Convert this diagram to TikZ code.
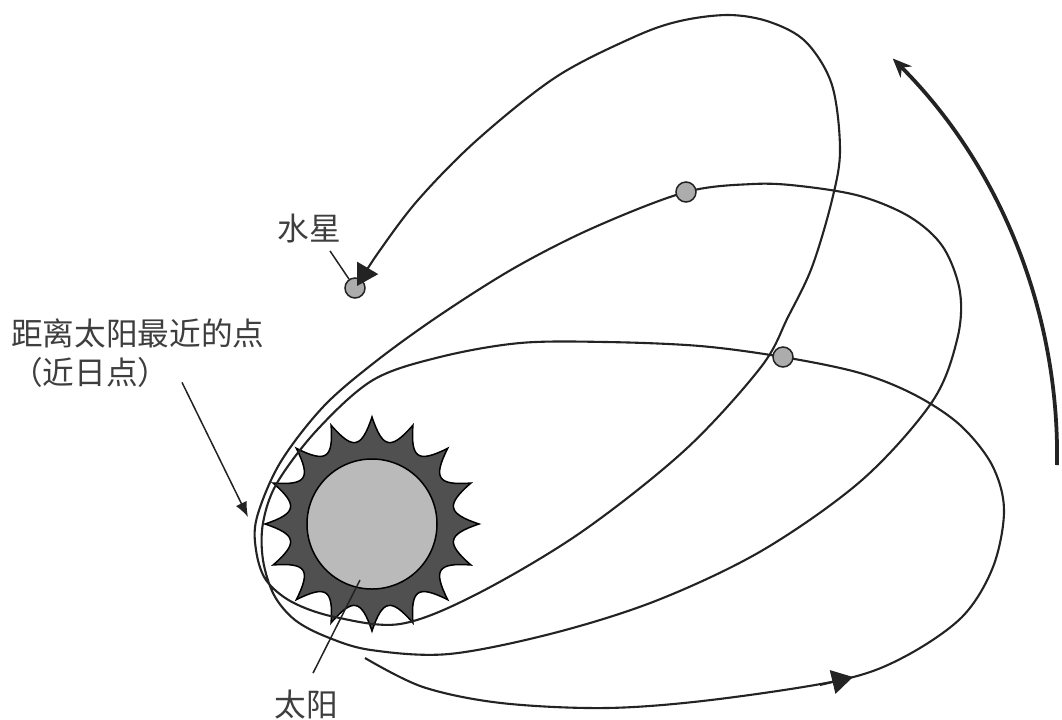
\documentclass[tikz,border=0pt]{standalone}
\usepackage{fontspec}
\setmainfont{Noto Sans CJK SC}
\usepackage{xcolor}
\definecolor{ink}{RGB}{35,35,35}
\definecolor{textgrey}{RGB}{62,62,62}
\definecolor{corona}{RGB}{80,80,80}
\definecolor{photo}{RGB}{186,186,186}
\definecolor{planetgrey}{RGB}{172,172,172}
\usetikzlibrary{arrows.meta,calc}

\begin{document}
\begin{tikzpicture}[
  x=0.2mm, y=-0.2mm,
  orbit/.style={draw=ink, line width=0.42mm},
  planet/.style={circle, draw=ink, line width=0.3mm, fill=planetgrey,
                 minimum size=4mm, inner sep=0pt},
  pointer/.style={draw=ink, line width=0.3mm},
  lbl/.style={font=\fontsize{18pt}{22pt}\selectfont, text=textgrey, inner sep=0pt},
  swing/.style={draw=ink, line width=0.75mm, -{Stealth[length=3.8mm,width=3.2mm]}},
]
  \fill[white] (0,0) rectangle (1062,719);
  \useasboundingbox (0,0) rectangle (1062,719);

  %% sun: spiky corona and disc
  \coordinate (sun) at (372,524);
  \begin{scope}[shift={(sun)}]
    \filldraw[fill=corona, draw=black, line width=0.3mm]
      (0:107) \foreach \a in {0,22.5,...,337.5}{
        .. controls (\a+8:76) and (\a+14.5:76) .. (\a+22.5:107)} -- cycle;
  \end{scope}
  \node[circle, fill=photo, draw=black, line width=0.3mm,
        minimum size=26mm, inner sep=0pt] (sunDisc) at (sun) {};

  %% Mercury now (sits under the arrow head)
  \node[planet] (mercury) at (355,288) {};

  %% precessing orbit, one continuous track
  \draw[orbit, -{Triangle[length=4.2mm,width=4.8mm]}] plot[smooth, tension=0.55] coordinates {
    (365,658) (423,687) (501,703) (606,708) (711,700) (841,680) (904,657)
    (962,617) (993,567) (1004,510) (992,465) (960,425) (915,395) (860,373)
    (783,357) (700,346) (606,342) (520,343) (440,357) (373,380) (317,430)
    (277,483) (263,523) (263,560) (274,595) (295,620) (327,637) (371,650)
    (449,654) (554,633) (658,600) (763,550) (862,480) (932,402)
    (957,340) (960,292) (943,247) (910,217) (860,196) (800,186) (753,184)
    (686,192) (595,227) (516,267) (440,315) (375,362) (323,407)
    (280,463) (257,517) (256,550) (266,580) (292,602) (335,617) (400,624)
    (475,595) (580,533) (685,450) (761,367) (788,317) (812,267) (832,200)
    (840,150) (832,85) (806,42) (770,22) (729,15) (680,21) (634,37)
    (556,77) (477,140) (418,200) (378,253) (357,286)};

  %% direction of motion on the first loop
  \coordinate (flowtail) at (820,685);
  \coordinate (flowtip) at (853,677);
  \draw[orbit, -{Triangle[length=4.2mm,width=4.8mm]}] (flowtail) -- (flowtip);

  %% earlier positions
  \node[planet] (mercuryEarly) at (783,357) {};
  \node[planet] (mercuryEarlier) at (686,192) {};

  %% turning of the orbit
  \draw[swing] (1057,465) arc[start angle=1, end angle=-45, radius=561];

  %% labels
  \node[lbl, anchor=base] (lblMercury) at (309,240) {水星};
  \draw[pointer] ($(lblMercury.south)+(21,8)$) -- (mercury);

  \node[lbl, anchor=base west, align=left] (lblPeri) at (11,384)
    {距离太阳最近的点\\（近日点）};
  \coordinate (perihelion) at (248,517);
  \draw[pointer, -{Latex[length=3mm,width=2.4mm]}]
    ($(lblPeri.south west)+(171,-5)$) -- (perihelion);

  \node[lbl, anchor=base] (lblSun) at (306,716) {太阳};
  \coordinate (sunface) at (360,580);
  \draw[pointer] ($(lblSun.north)+(7,-16)$) -- (sunface);
\end{tikzpicture}
\end{document}
